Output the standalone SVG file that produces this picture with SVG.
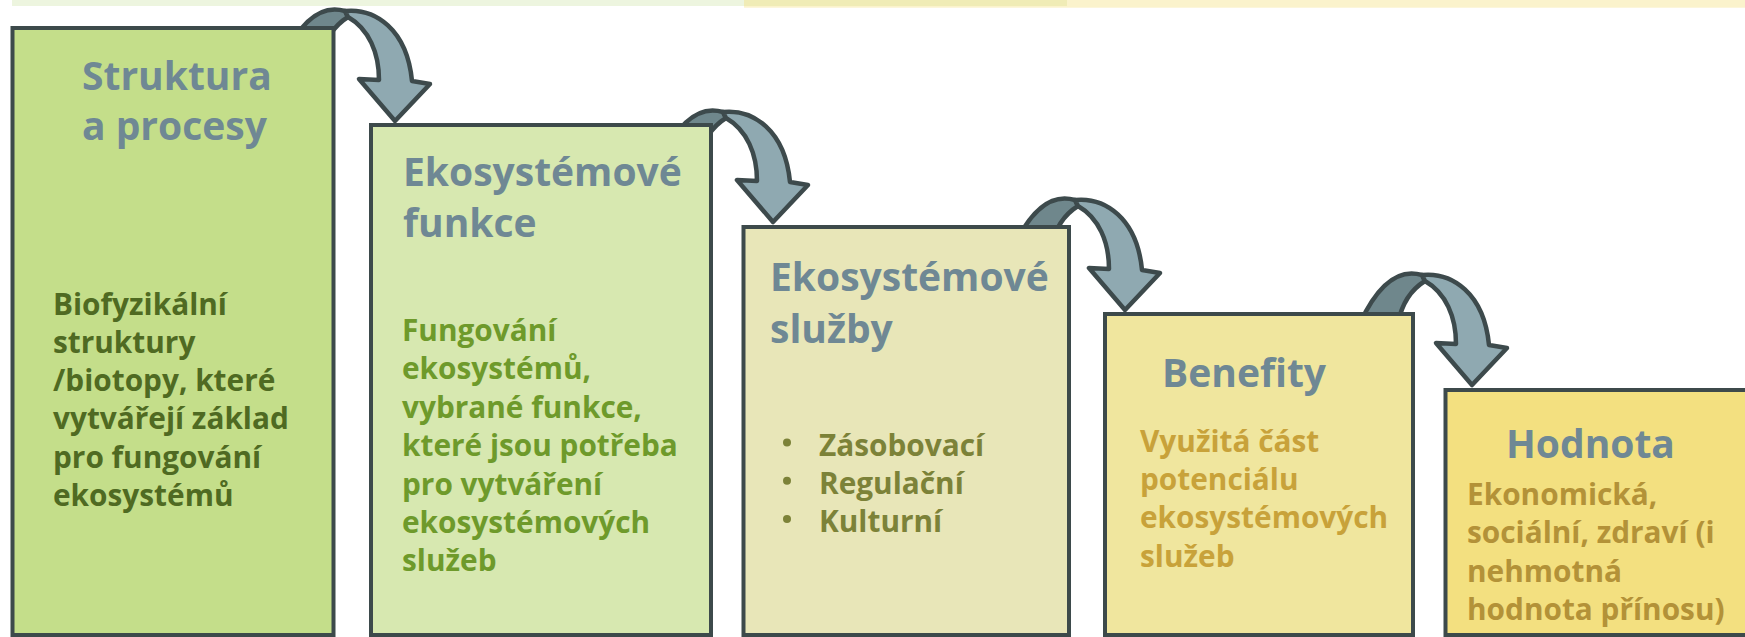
<svg xmlns="http://www.w3.org/2000/svg" width="1745" height="637" viewBox="0 0 1745 637">
<style>
.box{stroke:#3d4a4b;stroke-width:4}
.title{font-family:"Open Sans","Noto Sans",sans-serif;font-weight:bold;font-size:39px;fill:#6f8894}
.body{font-family:"Open Sans","Noto Sans",sans-serif;font-weight:bold;font-size:29.8px}
.front{fill:#8fa9b1;stroke:#3d4a4c;stroke-width:4.5;stroke-linejoin:round}
.back{fill:#6f878c;stroke:#3d4a4c;stroke-width:4.5;stroke-linejoin:round}
</style>
<defs>
<g id="arrow">
<path class="back" d="M -50,-110 C -70,-116 -92,-105 -112,-62 L -74,-62 C -70,-82 -60,-96 -47,-104 Z"/>
<path class="front" d="M -50,-110 C -20,-113 12,-92 17,-40 L 35,-37 L 0,0 L -36,-42 L -16,-41 C -16,-68 -26,-92 -47,-104 Z"/>
</g>
</defs>
<rect x="0" y="0" width="1745" height="637" fill="#ffffff"/>
<g id="top-stripe">
<rect x="12" y="0" width="732" height="6" fill="#edf5df"/>
<rect x="744" y="0" width="1001" height="7.7" fill="#fbf3cc"/>
<rect x="744" y="0" width="323" height="6" fill="#f0ecb6"/>
</g>
<g id="connectors">
<use href="#arrow" x="395" y="121"/>
<use href="#arrow" x="773" y="222"/>
<use href="#arrow" x="1125" y="310"/>
<use href="#arrow" x="1472" y="385"/>
</g>
<g id="node1">
<rect class="box" x="12.5" y="28" width="321" height="607" fill="#c4de8a"/>
<text class="title" x="82" y="90">Struktura</text>
<text class="title" x="82" y="140">a procesy</text>
<g class="body" fill="#4f6a22">
<text x="53" y="314.5">Biofyzikální</text>
<text x="53" y="352.8">struktury</text>
<text x="53" y="391.1">/biotopy, které</text>
<text x="53" y="429.4">vytvářejí základ</text>
<text x="53" y="467.7">pro fungování</text>
<text x="53" y="506">ekosystémů</text>
</g>
</g>
<g id="node2">
<rect class="box" x="371" y="125" width="340" height="510" fill="#d7e8b0"/>
<text class="title" x="403" y="186">Ekosystémové</text>
<text class="title" x="403" y="236.5">funkce</text>
<g class="body" fill="#6e9a2b">
<text x="402" y="341">Fungování</text>
<text x="402" y="379.4">ekosystémů,</text>
<text x="402" y="417.8">vybrané funkce,</text>
<text x="402" y="456.2">které jsou potřeba</text>
<text x="402" y="494.6">pro vytváření</text>
<text x="402" y="533">ekosystémových</text>
<text x="402" y="571.4">služeb</text>
</g>
</g>
<g id="node3">
<rect class="box" x="743.5" y="227" width="325.5" height="408" fill="#e8e6b8"/>
<text class="title" x="770" y="290.7">Ekosystémové</text>
<text class="title" x="770" y="343">služby</text>
<g class="body" fill="#7c8238">
<circle cx="787" cy="442.5" r="4"/>
<circle cx="787" cy="480.8" r="4"/>
<circle cx="787" cy="519.1" r="4"/>
<text x="819" y="455.7">Zásobovací</text>
<text x="819" y="494">Regulační</text>
<text x="819" y="532.3">Kulturní</text>
</g>
</g>
<g id="node4">
<rect class="box" x="1105" y="314" width="308" height="321" fill="#f0e69e"/>
<text class="title" x="1162" y="387">Benefity</text>
<g class="body" fill="#c8a23a">
<text x="1140" y="451.7">Využitá část</text>
<text x="1140" y="490">potenciálu</text>
<text x="1140" y="528.3">ekosystémových</text>
<text x="1140" y="566.6">služeb</text>
</g>
</g>
<g id="node5">
<rect class="box" x="1445.5" y="390" width="320" height="245" fill="#f3e080"/>
<text class="title" x="1506" y="458">Hodnota</text>
<g class="body" fill="#b39238">
<text x="1467" y="505">Ekonomická,</text>
<text x="1467" y="543.3">sociální, zdraví (i</text>
<text x="1467" y="581.6">nehmotná</text>
<text x="1467" y="620">hodnota přínosu)</text>
</g>
</g>
</svg>
